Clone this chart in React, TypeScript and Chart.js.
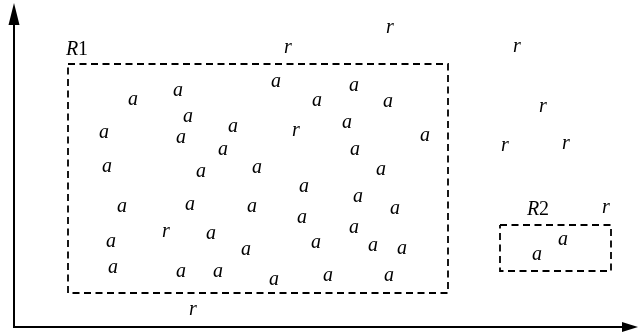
import React, { useEffect, useRef } from "react";
import { Chart, registerables } from "chart.js";

Chart.register(...registerables);

// Points labelled "a" (data coordinates: origin at the axes' corner)
const aPoints: [number, number][] = [
  [262, 245], [340, 241], [164, 236], [119, 227], [303, 226], [374, 225],
  [174, 210], [333, 204], [219, 200], [90, 194], [167, 189], [411, 191],
  [209, 177], [341, 177], [93, 160], [187, 155], [243, 159], [367, 157],
  [290, 140], [344, 130], [108, 120], [176, 122], [238, 120], [381, 118],
  [288, 109], [340, 99], [197, 93], [97, 85], [302, 84], [359, 81],
  [388, 78], [232, 77], [99, 59], [167, 55], [204, 55], [314, 51],
  [375, 51], [260, 47], [549, 87], [523, 72],
];

// Points labelled "r"
const rPoints: [number, number][] = [
  [274, 279], [376, 299], [503, 280], [529, 220], [491, 181], [552, 183],
  [282, 196], [152, 95], [179, 17], [592, 119],
];

// Regions
const regionNames = ["R", "R"];
const regionIndex = ["1", "2"];
const regionLabelPos: [number, number][] = [[63, 279], [524, 119]];
// [xLeft, xRight, yTop, yBottom]
const regionBounds: [number, number, number, number][] = [
  [54, 434, 263, 34],
  [486, 597, 102, 56],
];

const X_MAX = 624;
const Y_MAX = 324;
const FONT_FAMILY = '"Liberation Serif", "Times New Roman", Times, serif';
const MARK_FONT_SIZE = 20;
const REGION_FONT_SIZE = 20;

const textPlugin = {
  id: "textMarks",
  beforeDatasetsDraw(chart: any) {
    const { ctx, chartArea } = chart;
    const { left, right, top, bottom } = chartArea;
    ctx.save();
    ctx.strokeStyle = "#000";
    ctx.fillStyle = "#000";
    ctx.lineWidth = 2;
    // y axis
    ctx.beginPath();
    ctx.moveTo(left, bottom + 1);
    ctx.lineTo(left, top + 18);
    ctx.stroke();
    ctx.beginPath();
    ctx.moveTo(left, top);
    ctx.lineTo(left - 5.5, top + 22);
    ctx.lineTo(left + 5.5, top + 22);
    ctx.closePath();
    ctx.fill();
    // x axis
    ctx.beginPath();
    ctx.moveTo(left - 1, bottom);
    ctx.lineTo(right - 14, bottom);
    ctx.stroke();
    ctx.beginPath();
    ctx.moveTo(right, bottom);
    ctx.lineTo(right - 16, bottom - 5);
    ctx.lineTo(right - 16, bottom + 5);
    ctx.closePath();
    ctx.fill();
    ctx.restore();
  },
  afterDatasetsDraw(chart: any) {
    const { ctx } = chart;
    ctx.save();
    ctx.fillStyle = "#000";
    ctx.textAlign = "left";
    ctx.textBaseline = "alphabetic";
    const markFont = `italic ${MARK_FONT_SIZE}px ${FONT_FAMILY}`;
    const italic = `italic ${REGION_FONT_SIZE}px ${FONT_FAMILY}`;
    const upright = `${REGION_FONT_SIZE}px ${FONT_FAMILY}`;
    chart.data.datasets.forEach((ds: any, i: number) => {
      const meta = chart.getDatasetMeta(i);
      if (ds.textLabel) {
        ctx.font = markFont;
        const m = ctx.measureText(ds.textLabel);
        const dx = (m.actualBoundingBoxRight - m.actualBoundingBoxLeft) / 2;
        const dy = (m.actualBoundingBoxAscent - m.actualBoundingBoxDescent) / 2;
        meta.data.forEach((el: any) => {
          ctx.fillText(ds.textLabel, el.x - dx, el.y + dy);
        });
      }
      if (ds.regionLabels) {
        meta.data.forEach((el: any, j: number) => {
          const name = ds.regionLabels[j];
          const idx = ds.regionIdx[j];
          ctx.font = italic;
          const mN = ctx.measureText(name);
          ctx.font = upright;
          const mI = ctx.measureText(idx);
          const total = mN.width + mI.width;
          const dy = mN.actualBoundingBoxAscent / 2;
          const x0 = el.x - total / 2;
          ctx.font = italic;
          ctx.fillText(name, x0, el.y + dy);
          ctx.font = upright;
          ctx.fillText(idx, x0 + mN.width, el.y + dy);
        });
      }
    });
    ctx.restore();
  },
};

export default function App() {
  const canvasRef = useRef<HTMLCanvasElement | null>(null);

  useEffect(() => {
    document.body.style.margin = "0";
    const canvas = canvasRef.current;
    if (!canvas) return;

    const rectDatasets = regionBounds.map(([x1, x2, yt, yb]) => ({
      type: "scatter" as const,
      data: [
        { x: x1, y: yt },
        { x: x2, y: yt },
        { x: x2, y: yb },
        { x: x1, y: yb },
        { x: x1, y: yt },
      ],
      showLine: true,
      borderColor: "#000",
      borderWidth: 1.8,
      borderDash: [7, 4.5],
      borderJoinStyle: "miter" as const,
      pointRadius: 0,
      fill: false,
      tension: 0,
    }));

    const chart = new Chart(canvas, {
      type: "scatter",
      data: {
        datasets: [
          ...rectDatasets,
          {
            data: aPoints.map(([x, y]) => ({ x, y })),
            pointRadius: 0,
            textLabel: "a",
          } as any,
          {
            data: rPoints.map(([x, y]) => ({ x, y })),
            pointRadius: 0,
            textLabel: "r",
          } as any,
          {
            data: regionLabelPos.map(([x, y]) => ({ x, y })),
            pointRadius: 0,
            regionLabels: regionNames,
            regionIdx: regionIndex,
          } as any,
        ],
      },
      options: {
        animation: false,
        responsive: false,
        events: [],
        layout: { padding: { left: 14, top: 3, right: 1, bottom: 6 } },
        plugins: {
          legend: { display: false },
          tooltip: { enabled: false },
        },
        scales: {
          x: { type: "linear", min: 0, max: X_MAX, display: false },
          y: { type: "linear", min: 0, max: Y_MAX, display: false },
        },
      },
      plugins: [textPlugin],
    });

    return () => {
      chart.destroy();
    };
  }, []);

  return (
    <div style={{ position: "absolute", left: 0, top: 0, width: 639, height: 333 }}>
      <canvas ref={canvasRef} width={639} height={333} style={{ display: "block" }} />
    </div>
  );
}
